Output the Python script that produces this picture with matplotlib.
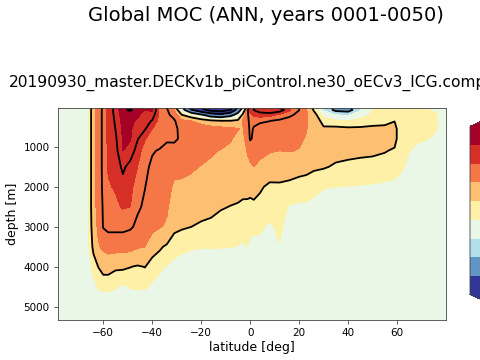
import numpy as np
import matplotlib
matplotlib.use("Agg")
import matplotlib.pyplot as plt
import matplotlib.colors as mcolors

# ---------------- data ----------------
lat = [-78.5, -67, -65.5, -64, -62, -60, -58, -55, -52, -49, -46, -43, -40, -37,
       -34, -31, -28, -24, -20, -16, -12, -8, -5, -3, -1, 0, 1.5, 4, 8, 12, 16,
       20, 23, 26, 30, 35, 40, 45, 50, 55, 59, 61, 64, 68, 72, 76, 78.5, 80]

depth = [10, 80, 200, 350, 550, 800, 1100, 1500, 2000, 2500, 3000, 3500, 4000,
         4500, 5000, 5400]

# streamfunction [Sv], one profile (over depth) per latitude
moc_profiles = [
    [0, 0, 0, 0, 0, 0, 0, 0, 0, 0, 0, 0, 0, 0, 0, 0],                               # -78.5
    [0.5, 0.5, 0.5, 0.5, 0.5, 0.5, 0.5, 0.5, 0.5, 0.5, 0.5, 0.3, 0, 0, 0, 0],       # -67
    [3, 3, 3, 3, 3, 3, 3, 3, 3, 3, 3, 2.5, 1.2, 0.3, 0, 0],                         # -65.5
    [8, 8.5, 8.5, 8.5, 8.5, 8.5, 8.5, 8.5, 8.5, 8.5, 7.5, 6, 3, 1, 0, 0],           # -64
    [12, 12.5, 12.5, 12.5, 12.5, 12.5, 12.5, 12.5, 12, 11.5, 11, 9.5, 5, 2.3, 0.3, 0],  # -62
    [15.5, 16, 16, 16, 16, 16, 16, 16, 16, 15.5, 15.2, 11, 6.5, 2.5, 0.3, 0],       # -60
    [21, 22, 22, 22, 22, 21.5, 21, 20.5, 19.5, 18, 16, 12, 6.5, 2.5, 0.5, 0],       # -58
    [25.5, 26.5, 26, 25.5, 25, 24, 23, 22, 20.5, 19, 16, 12, 5.5, 2.2, 0.3, 0],     # -55
    [32, 34, 33, 32, 31, 30.5, 30, 26, 23, 20.5, 16, 12, 5.5, 1.5, 0.3, 0],         # -52
    [31, 35.5, 33, 31.5, 31, 30.5, 28, 23, 21.5, 20, 15.5, 11.5, 5, 2.2, 0.3, 0],   # -49
    [31, 33, 31, 29, 26.5, 25.3, 22.5, 20, 17.5, 15.5, 14, 10.5, 4.5, 2.3, 0.3, 0], # -46
    [29, 30, 28, 27, 25.5, 20.5, 17.5, 16, 15, 14.3, 12.5, 10, 5, 2.3, 0.3, 0],     # -43
    [30, 31, 28, 24.5, 20, 17, 15.3, 14, 13.5, 13, 11.5, 6.5, 3.5, 1.5, 0.3, 0],    # -40
    [18.5, 19, 18.5, 18, 17.5, 17, 14.5, 13, 12, 11, 10.3, 5.5, 2.5, 1, 0.2, 0],    # -37
    [14.5, 15.5, 16, 16, 16, 15.5, 13.5, 12, 11, 10.5, 9.5, 4.2, 1.8, 0.8, 0.2, 0], # -34
    [7, 10, 13, 15.5, 16, 15.8, 13, 11, 9.5, 8, 5.8, 3, 1.3, 0.5, 0, 0],            # -31
    [-4, -1, 5, 11, 13.5, 14, 12.5, 11, 9.3, 7.5, 5.3, 2.6, 0.8, 0.3, 0, 0],        # -28
    [-18, -14, 1, 10, 13, 13, 12, 10.5, 9, 7, 4.9, 2.3, 0.6, 0.2, 0, 0],            # -24
    [-26, -22, -4, 8, 12.5, 12.5, 11.5, 9.8, 8.5, 6.5, 4.3, 2.1, 0.5, 0.2, 0, 0],   # -20
    [-30, -28, -10, 6, 12, 12, 10.5, 9.3, 8, 6, 4, 2.1, 0.5, 0.2, 0, 0],            # -16
    [-32, -30, -12, 5, 11.5, 11.5, 9.8, 8.5, 7, 5.2, 3.5, 2.1, 0.5, 0.2, 0, 0],     # -12
    [-28, -25, -8, 5, 11, 10.3, 9.3, 8, 6.5, 4.8, 3.2, 2.05, 0.5, 0.2, 0, 0],       # -8
    [-15, -10, -2, 6, 10.2, 9, 8.3, 7.4, 6.1, 4.6, 3, 1.9, 0.5, 0.2, 0, 0],         # -5
    [-5, -1, 6, 10.5, 9.6, 9, 8, 7, 5.9, 4.3, 2.8, 1.7, 0.5, 0.2, 0, 0],            # -3
    [8, 14, 14, 13.5, 13, 12, 10.5, 9, 6, 4.2, 2.9, 2.0, 0.5, 0.2, 0, 0],           # -1
    [22, 22, 19, 17, 16, 15.5, 11, 9.5, 6, 4, 2.5, 1.5, 0.4, 0.1, 0, 0],            # 0
    [25, 25, 21, 16, 14.5, 14, 11.5, 10, 6.2, 4.2, 2.4, 1.5, 0.4, 0.1, 0, 0],       # 1.5
    [25, 27, 23, 15.5, 13.5, 13, 11.5, 8.8, 5.5, 3.6, 2.3, 1.5, 0.4, 0.1, 0, 0],    # 4
    [26, 30, 22, 15, 13, 12, 10.3, 8, 4, 2.8, 1.7, 1.2, 0.4, 0.1, 0, 0],            # 8
    [24, 28, 19, 14, 12.5, 12, 10, 7.5, 4.2, 3, 2.4, 1.9, 0.5, 0.1, 0, 0],          # 12
    [20, 21, 16, 13, 12, 11.5, 10.2, 7.2, 3.8, 1.8, 1.2, 0.8, 0.3, 0.1, 0, 0],      # 16
    [14.5, 15, 13.5, 12.5, 11.5, 10.8, 9.8, 6, 3.8, 1.5, 1.2, 0.8, 0.3, 0.1, 0, 0], # 20
    [9.5, 10.3, 10.5, 10.5, 10.2, 9.6, 8.5, 5.8, 3.6, 1.5, 1.1, 0.7, 0.3, 0.1, 0, 0],  # 23
    [3, 4.5, 6.5, 7.5, 7.5, 7.3, 7, 5.5, 2.6, 1.4, 1, 0.6, 0.3, 0, 0, 0],           # 26
    [-3, -2.5, 1, 3.5, 5.5, 6.5, 6.3, 5.2, 2.1, 1.2, 0.7, 0.4, 0.2, 0, 0, 0],       # 30
    [-6, -6, -2, 2.5, 5.8, 6.5, 6, 4.5, 2, 1.1, 0.6, 0.3, 0.1, 0, 0, 0],            # 35
    [-6, -6.5, -2.5, 2.2, 5.5, 6.3, 5.8, 4.2, 1.9, 1, 0.5, 0.3, 0.1, 0, 0, 0],      # 40
    [-1, -2.5, 0.5, 2.8, 5.5, 6.2, 5.6, 4, 1.8, 0.9, 0.4, 0.2, 0, 0, 0, 0],         # 45
    [1.5, 2.2, 2.5, 3.5, 5.7, 6.2, 5.5, 3.8, 1.7, 0.8, 0.3, 0.1, 0, 0, 0, 0],       # 50
    [2, 2.5, 2.8, 3.8, 5.8, 6.3, 5.1, 3.5, 1.5, 0.7, 0.3, 0.1, 0, 0, 0, 0],         # 55
    [3, 3, 3.5, 4.8, 6, 6, 4.5, 3, 1.4, 0.6, 0.2, 0.1, 0, 0, 0, 0],                 # 59
    [3, 3, 3, 3.2, 3.5, 3.5, 3, 2.5, 1.2, 0.5, 0.2, 0, 0, 0, 0, 0],                 # 61
    [2.5, 2.8, 3, 3, 3, 2.8, 2.2, 1.8, 0.8, 0.3, 0, 0, 0, 0, 0, 0],                 # 64
    [2, 2.5, 2.8, 2.8, 2.7, 2.3, 1.5, 0.8, 0.3, 0, 0, 0, 0, 0, 0, 0],               # 68
    [1.5, 2.2, 2.6, 2.6, 2.5, 2.1, 1.2, 0.5, 0, 0, 0, 0, 0, 0, 0, 0],               # 72
    [0.5, 1.5, 2.3, 2.3, 2.2, 1.5, 0.5, 0, 0, 0, 0, 0, 0, 0, 0, 0],                 # 76
    [0, 0.5, 1, 1, 1, 0.5, 0, 0, 0, 0, 0, 0, 0, 0, 0, 0],                           # 78.5
    [0, 0, 0, 0, 0, 0, 0, 0, 0, 0, 0, 0, 0, 0, 0, 0],                               # 80
]

colormap_indices = [0, 40, 80, 110, 140, 170, 200, 230, 255]
colorbar_levels = [-20, -10, -5, -2, 2, 5, 10, 20, 30, 40]
contour_levels = [-25.1, -15.1, -5.1, 4.9, 14.9, 24.9, 34.9]

suptitle = "Global MOC (ANN, years 0001-0050)"
run_name = "20190930_master.DECKv1b_piControl.ne30_oECv3_ICG.compy"

# ---------------- figure ----------------
moc = np.array(moc_profiles).T  # (depth, lat)

base = plt.get_cmap("RdYlBu_r")
cmap = mcolors.ListedColormap(base(colormap_indices))
cmap.set_under(base(colormap_indices[0]))
cmap.set_over(base(colormap_indices[-1]))
norm = mcolors.BoundaryNorm(colorbar_levels, cmap.N)

fig = plt.figure(figsize=(4.8, 3.6), dpi=100)
W, H = 480.0, 360.0
ax = fig.add_axes([58 / W, 1 - 320 / H, (446 - 58) / W, (320 - 108) / H])

cf = ax.contourf(lat, depth, moc, levels=colorbar_levels, cmap=cmap, norm=norm,
                 extend="both")
ax.contour(lat, depth, moc, levels=contour_levels, colors="k", linewidths=1.3,
           negative_linestyles="solid")

ax.set_xlim(-78.5, 80)
ax.set_ylim(5330, 30)
ax.set_xticks([-60, -40, -20, 0, 20, 40, 60])
ax.set_yticks([1000, 2000, 3000, 4000, 5000])
ax.tick_params(labelsize=7.5, length=2.6, width=0.6, color="#444444")
for s in ax.spines.values():
    s.set_linewidth(0.6)
    s.set_color("#444444")
ax.set_xlabel("latitude [deg]", fontsize=9, labelpad=2)
ax.set_ylabel("depth [m]", fontsize=9, labelpad=3)
ax.set_title(run_name, fontsize=11.2, pad=15)

fig.text(266 / W, 1 - 6 / H, suptitle, fontsize=14, ha="center", va="top")

cax = fig.add_axes([470 / W, 1 - 303 / H, 38 / W, (303 - 118) / H])
cb = fig.colorbar(cf, cax=cax, extend="both")
cb.set_ticks([])
cb.outline.set_linewidth(0.6)
cb.outline.set_edgecolor("#444444")

fig.savefig("out.png", dpi=100)
